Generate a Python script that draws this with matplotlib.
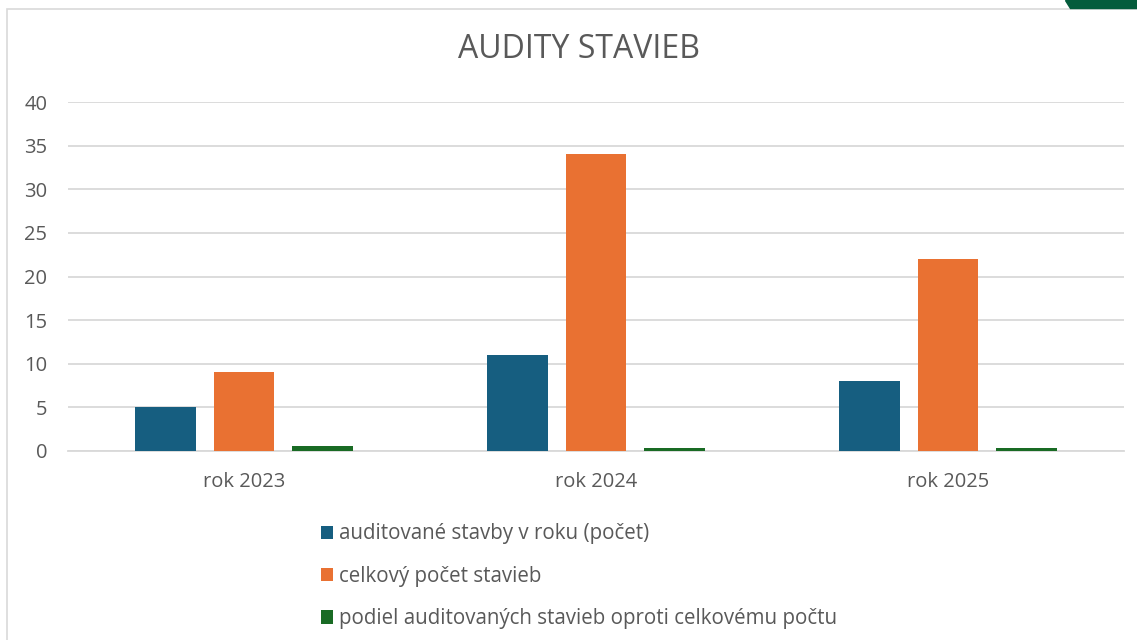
import matplotlib.pyplot as plt
import numpy as np
from matplotlib.patches import Polygon, Rectangle

plt.rcParams['font.family'] = ['Open Sans', 'DejaVu Sans']

# data
years = ['rok 2023', 'rok 2024', 'rok 2025']
audited = [5, 11, 8]
total = [9, 34, 22]
ratio = [0.56, 0.32, 0.36]
series_names = ['auditované stavby v roku (počet)',
                'celkový počet stavieb',
                'podiel auditovaných stavieb oproti celkovému počtu']
colors = ['#165E80', '#E97132', '#196B24']

W, H = 1137, 640
fig = plt.figure(figsize=(W / 100, H / 100), dpi=100)

# plot area in pixels: x 68..1124, y 102..451
ax = fig.add_axes([68 / W, 1 - 451 / H, (1124 - 68) / W, (451 - 102) / H])

x = np.arange(len(years))
width = 0.173
step = 0.222
for i, (vals, name, c) in enumerate(zip([audited, total, ratio], series_names, colors)):
    ax.bar(x + (i - 1) * step, vals, width, color=c, label=name, zorder=3)

ax.set_xlim(-0.5, 2.5)
ax.set_ylim(0, 40)
ax.set_yticks(range(0, 41, 5))
ax.set_xticks(x)
ax.set_xticklabels(years)
ax.grid(axis='y', color='#D9D9D9', linewidth=1.3, zorder=0)
for s in ['top', 'right', 'left']:
    ax.spines[s].set_visible(False)
ax.spines['bottom'].set_color('#D9D9D9')
ax.spines['bottom'].set_linewidth(1.3)
ax.tick_params(axis='both', length=0, colors='#595959', labelsize=14.5)
ax.tick_params(axis='y', pad=15)
ax.tick_params(axis='x', pad=15)

fig.text(579 / W, 1 - 49 / H, 'AUDITY STAVIEB', ha='center', va='center',
         fontsize=23, color='#595959')

leg = fig.legend(loc='upper left', bbox_to_anchor=(302 / W, 1 - 505 / H),
                 frameon=False, fontsize=14.8, labelcolor='#595959',
                 handlelength=0.6, handleheight=0.6, handletextpad=0.3,
                 labelspacing=1.04)

# chart frame and corner decoration
fig.patches.append(Rectangle((7 / W, -0.1), 1.2, 1 - 9 / H + 0.1, transform=fig.transFigure,
                             fill=False, edgecolor='#D9D9D9', linewidth=1.2))
fig.patches.append(Polygon([(1065 / W, 1), (1137 / W, 1), (1137 / W, 1 - 8 / H), (1070 / W, 1 - 8 / H)],
                           closed=True, transform=fig.transFigure, color='#045C3C'))

fig.savefig('out.png', dpi=100)
